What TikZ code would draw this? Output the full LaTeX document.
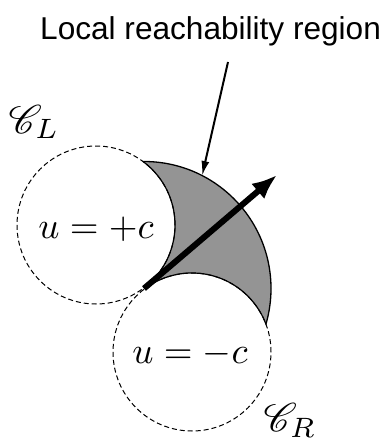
\documentclass[tikz,border=0pt]{standalone}
\usepackage{amsmath,amssymb}
\usepackage{mathrsfs}
\usepackage{fontspec}
\setsansfont{Liberation Sans}
\usepackage{tikz}
\usetikzlibrary{arrows.meta,calc}
\tikzset{
  reach/.style={fill=black!42},
  bound/.style={circle, draw, dash pattern=on 5pt off 3pt, line width=1pt, fill=white, minimum size=158pt, inner sep=0pt},
  ctrl/.style={scale=3.7},
  setname/.style={scale=4},
}

\begin{document}
\begin{tikzpicture}[x=1pt,y=-1pt]
\fill[white] (0,0) rectangle (385,441);
\useasboundingbox (0,0) rectangle (385,441);
\coordinate (cl) at (96,225);
\coordinate (cr) at (192,352);
\coordinate (t) at ($(cl)!0.5!(cr)$);
\coordinate (ta) at ($(t)!2!(cl)$);
\coordinate (tb) at ($(t)!2!(cr)$);
% Reachable region
\begin{scope}
\clip (ta) -- (tb) -- ($(tb)+(254,-194)$) -- ($(ta)+(254,-194)$) -- cycle;
\fill[reach] (t) circle (127);
\draw[line width=1.3pt] (t) circle (127);
\end{scope}
% Turning circles
\node[bound] (cplus) at (cl) {};
\node[bound] (cminus) at (cr) {};
\begin{scope}
\clip (ta) -- (tb) -- ($(tb)+(254,-194)$) -- ($(ta)+(254,-194)$) -- cycle;
\clip (t) circle (127);
\draw[line width=1.2pt] (cl) circle (79) (cr) circle (79);
\end{scope}
\node[ctrl] (uplus) at (96,229) {$u=+c$};
\node[ctrl] (uminus) at (190,354) {$u=-c$};
% Heading
\coordinate (tip) at (277,175);
\draw[line width=6pt, -{Latex[length=25pt,width=20pt]}] (t) -- (tip);
% Label and pointer
\node[anchor=base west, inner sep=0pt] (title) at (40,40) {\sffamily\fontsize{31.6}{34}\selectfont Local reachability region};
\coordinate (p1) at (228,62);
\coordinate (p2) at (202,176);
\draw[line width=2pt, -{Latex[length=15pt,width=8pt]}] (p1) -- (p2);
\node[setname] (setl) at (34,122) {$\mathscr{C}_L$};
\node[setname] (setr) at (290,420) {$\mathscr{C}_R$};
\end{tikzpicture}
\end{document}
